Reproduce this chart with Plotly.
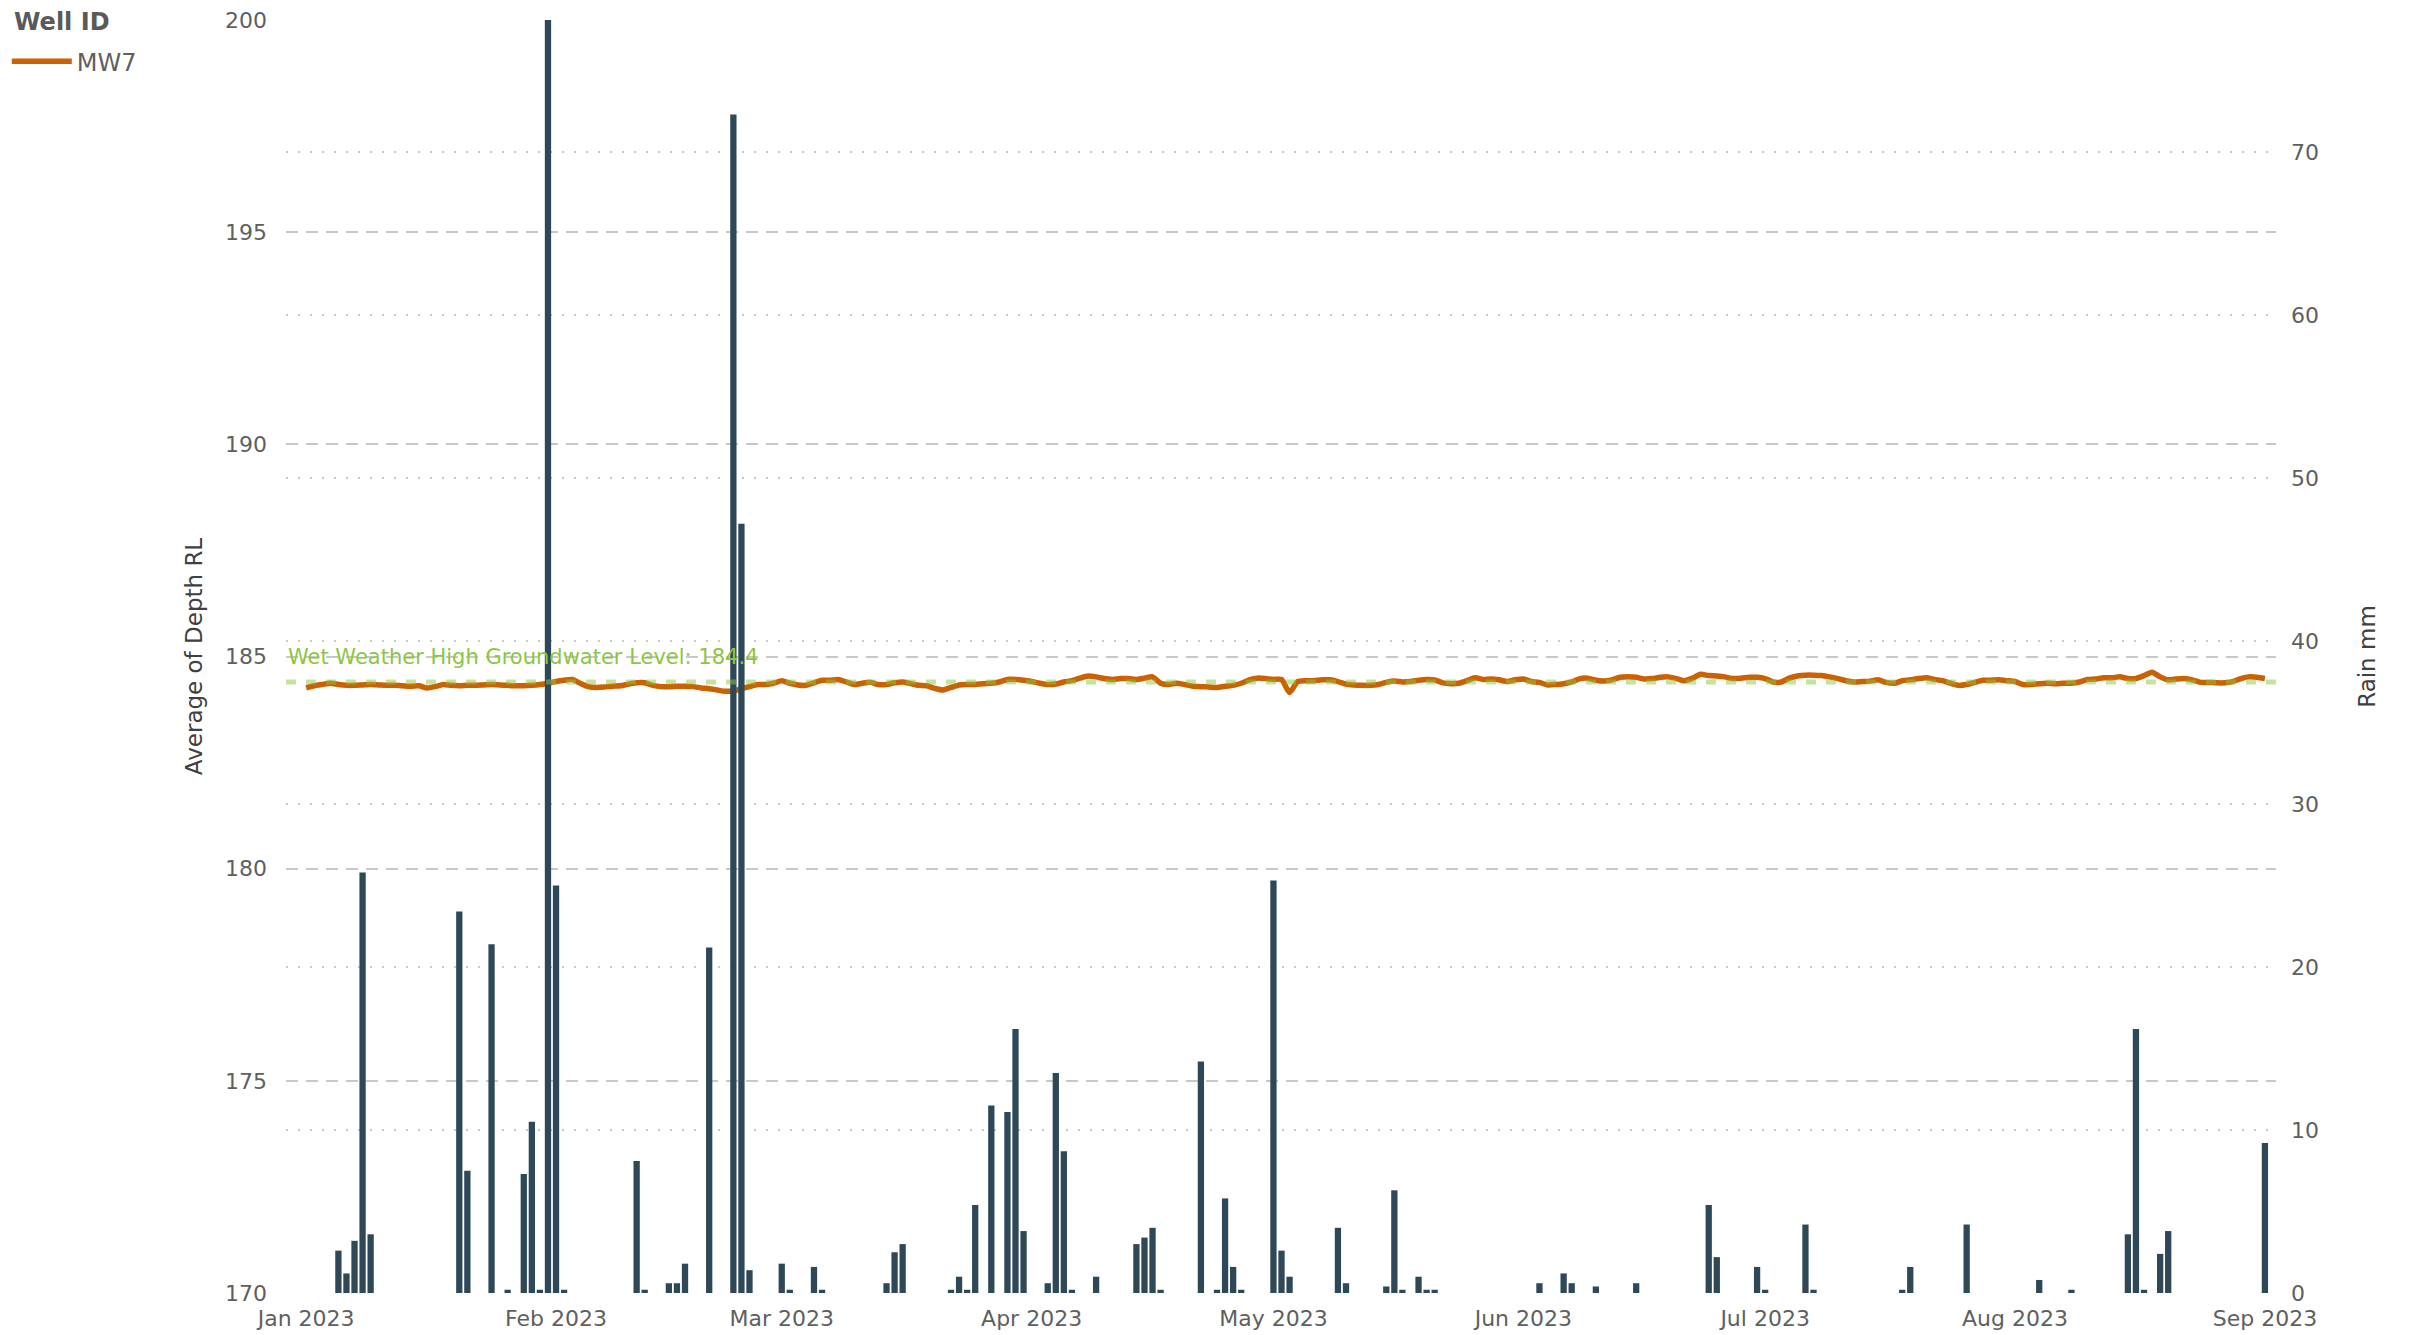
import plotly.graph_objects as go
import pandas as pd

# ---------------- data ----------------
level_start = "2023-01-01"
level_values = [
    184.26, 184.31, 184.34, 184.37, 184.34, 184.32, 184.32, 184.33, 184.34, 184.33,
    184.32, 184.32, 184.31, 184.30, 184.31, 184.26, 184.29, 184.34, 184.32, 184.31,
    184.32, 184.32, 184.33, 184.34, 184.33, 184.32, 184.31, 184.31, 184.32, 184.34,
    184.37, 184.41, 184.44, 184.46, 184.37, 184.29, 184.27, 184.28, 184.30, 184.31,
    184.35, 184.38, 184.38, 184.32, 184.29, 184.29, 184.30, 184.30, 184.29, 184.26,
    184.24, 184.21, 184.18, 184.19, 184.24, 184.29, 184.34, 184.34, 184.37, 184.43,
    184.37, 184.33, 184.32, 184.38, 184.44, 184.44, 184.46, 184.40, 184.34, 184.37,
    184.39, 184.34, 184.34, 184.38, 184.40, 184.36, 184.32, 184.31, 184.25, 184.21,
    184.27, 184.33, 184.34, 184.34, 184.36, 184.37, 184.40, 184.46, 184.46, 184.44,
    184.41, 184.37, 184.34, 184.35, 184.40, 184.43, 184.49, 184.54, 184.52, 184.48,
    184.46, 184.48, 184.48, 184.46, 184.49, 184.52, 184.37, 184.34, 184.37, 184.34,
    184.30, 184.29, 184.28, 184.27, 184.30, 184.32, 184.37, 184.45, 184.49, 184.48,
    184.46, 184.46, 184.15, 184.41, 184.43, 184.43, 184.45, 184.45, 184.41, 184.35,
    184.33, 184.32, 184.32, 184.34, 184.39, 184.42, 184.40, 184.41, 184.44, 184.46,
    184.45, 184.38, 184.36, 184.37, 184.43, 184.50, 184.46, 184.47, 184.45, 184.41,
    184.45, 184.47, 184.41, 184.39, 184.33, 184.34, 184.36, 184.40, 184.48, 184.49,
    184.44, 184.42, 184.45, 184.51, 184.52, 184.51, 184.47, 184.48, 184.51, 184.52,
    184.48, 184.43, 184.49, 184.58, 184.55, 184.54, 184.52, 184.48, 184.49, 184.51,
    184.51, 184.48, 184.40, 184.40, 184.49, 184.54, 184.56, 184.56, 184.55, 184.52,
    184.48, 184.43, 184.40, 184.41, 184.42, 184.45, 184.39, 184.37, 184.43, 184.45,
    184.48, 184.50, 184.46, 184.43, 184.37, 184.32, 184.34, 184.39, 184.44, 184.44,
    184.45, 184.43, 184.41, 184.34, 184.34, 184.36, 184.37, 184.36, 184.37, 184.37,
    184.40, 184.46, 184.47, 184.50, 184.50, 184.52, 184.48, 184.48, 184.55, 184.63,
    184.52, 184.45, 184.47, 184.48, 184.45, 184.39, 184.39, 184.38, 184.38, 184.41,
    184.48, 184.52, 184.51, 184.48,
]
level_dates = pd.date_range(level_start, periods=len(level_values), freq="D")

rain_dates = [
    "2023-01-05", "2023-01-06", "2023-01-07", "2023-01-08", "2023-01-09",
    "2023-01-20", "2023-01-21", "2023-01-24", "2023-01-26", "2023-01-28",
    "2023-01-29", "2023-01-30", "2023-01-31", "2023-02-01", "2023-02-02",
    "2023-02-11", "2023-02-12", "2023-02-15", "2023-02-16", "2023-02-17",
    "2023-02-20", "2023-02-23", "2023-02-24", "2023-02-25", "2023-03-01",
    "2023-03-02", "2023-03-05", "2023-03-06", "2023-03-14", "2023-03-15",
    "2023-03-16", "2023-03-22", "2023-03-23", "2023-03-24", "2023-03-25",
    "2023-03-27", "2023-03-29", "2023-03-30", "2023-03-31", "2023-04-03",
    "2023-04-04", "2023-04-05", "2023-04-06", "2023-04-09", "2023-04-14",
    "2023-04-15", "2023-04-16", "2023-04-17", "2023-04-22", "2023-04-24",
    "2023-04-25", "2023-04-26", "2023-04-27", "2023-05-01", "2023-05-02",
    "2023-05-03", "2023-05-09", "2023-05-10", "2023-05-15", "2023-05-16",
    "2023-05-17", "2023-05-19", "2023-05-20", "2023-05-21", "2023-06-03",
    "2023-06-06", "2023-06-07", "2023-06-10", "2023-06-15", "2023-06-24",
    "2023-06-25", "2023-06-30", "2023-07-01", "2023-07-06", "2023-07-07",
    "2023-07-18", "2023-07-19", "2023-07-26", "2023-08-04", "2023-08-08",
    "2023-08-15", "2023-08-16", "2023-08-17", "2023-08-19", "2023-08-20",
    "2023-09-01",
]
rain_mm = [
    2.6, 1.2, 3.2, 25.8, 3.6,
    23.4, 7.5, 21.4, 0.2, 7.3,
    10.5, 0.2, 78.1, 25.0, 0.2,
    8.1, 0.2, 0.6, 0.6, 1.8,
    21.2, 72.3, 47.2, 1.4, 1.8,
    0.2, 1.6, 0.2, 0.6, 2.5,
    3.0, 0.2, 1.0, 0.2, 5.4,
    11.5, 11.1, 16.2, 3.8, 0.6,
    13.5, 8.7, 0.2, 1.0, 3.0,
    3.4, 4.0, 0.2, 14.2, 0.2,
    5.8, 1.6, 0.2, 25.3, 2.6,
    1.0, 4.0, 0.6, 0.4, 6.3,
    0.2, 1.0, 0.2, 0.2, 0.6,
    1.2, 0.6, 0.4, 0.6, 5.4,
    2.2, 1.6, 0.2, 4.2, 0.2,
    0.2, 1.6, 4.2, 0.8, 0.2,
    3.6, 16.2, 0.2, 2.4, 3.8,
    9.2,
]

well_id = "MW7"
legend_title = "Well ID"
wet_weather_level = 184.4
left_ticks = [170, 175, 180, 185, 190, 195, 200]
right_ticks = [0, 10, 20, 30, 40, 50, 60, 70]

# ---------------- styling ----------------
FONT = "DejaVu Sans, sans-serif"
TXT = "#5f5f5f"
ORANGE = "#CA6102"
BAR = "#2F4858"
GREEN_TXT = "#8DC63F"
GRID = "#c8c8c8"

fig = go.Figure()

fig.add_trace(go.Scatter(
    x=level_dates, y=level_values, mode="lines", name=well_id,
    line=dict(color=ORANGE, width=5.5, shape="spline", smoothing=0.6),
    yaxis="y",
))

fig.add_trace(go.Bar(
    x=pd.to_datetime(rain_dates), y=rain_mm, name="Rain",
    marker=dict(color=BAR, line=dict(width=0)),
    width=86400000 * 0.78, showlegend=False, yaxis="y2",
))

fig.add_shape(
    type="line", xref="paper", x0=0, x1=1, yref="y",
    y0=wet_weather_level, y1=wet_weather_level,
    line=dict(color="rgba(141,198,63,0.5)", width=5, dash="10px,10px"),
    layer="above",
)
fig.add_annotation(
    xref="paper", x=0, xanchor="left", yref="y", y=185, yanchor="middle",
    text=f"Wet Weather High Groundwater Level: {wet_weather_level}",
    showarrow=False, font=dict(family=FONT, size=21, color=GREEN_TXT),
)
# legend title
fig.add_annotation(
    xref="paper", x=-0.1377, xanchor="left", yref="paper", y=0.9986,
    yanchor="middle", text=f"<b>{legend_title}</b>", showarrow=False,
    font=dict(family=FONT, size=24, color="#5a5a5a"),
)

fig.update_layout(
    width=2411, height=1335,
    margin=dict(l=278, r=143, t=12, b=50, autoexpand=False),
    paper_bgcolor="white", plot_bgcolor="white",
    font=dict(family=FONT, size=22, color=TXT),
    showlegend=True,
    legend=dict(
        x=-0.1403, xanchor="left", y=0.985, yanchor="top",
        bgcolor="rgba(0,0,0,0)", itemwidth=60,
        font=dict(size=24, color=TXT), tracegroupgap=0,
    ),
    bargap=0.2,
    xaxis=dict(
        type="date",
        range=["2022-12-29 12:00", "2023-09-02 09:00"],
        tickformat="%b %Y", dtick="M1", tick0="2023-01-01",
        showgrid=False, zeroline=False, showline=False, ticks="",
        ticklabelstandoff=10, ticklabeloverflow="allow",
        tickfont=dict(size=22, color=TXT),
    ),
    yaxis=dict(
        range=[170, 200], tickvals=left_ticks,
        showgrid=True, gridcolor=GRID, gridwidth=2, griddash="12px,8px",
        zeroline=False, showline=False, ticks="",
        ticklabelstandoff=18, ticklabeloverflow="allow",
        title=dict(text="Average of Depth RL", standoff=15,
                   font=dict(size=23, color="#404040")),
        tickfont=dict(size=22, color=TXT),
    ),
    yaxis2=dict(
        overlaying="y", side="right",
        range=[0, max(rain_mm)], tickvals=right_ticks,
        showgrid=True, gridcolor=GRID, gridwidth=2, griddash="2px,10px",
        zeroline=False, showline=False, ticks="",
        ticklabelstandoff=14, ticklabeloverflow="allow",
        title=dict(text="Rain mm", standoff=40,
                   font=dict(size=23, color="#404040")),
        tickfont=dict(size=22, color=TXT),
    ),
)

fig.write_html("out.html")
